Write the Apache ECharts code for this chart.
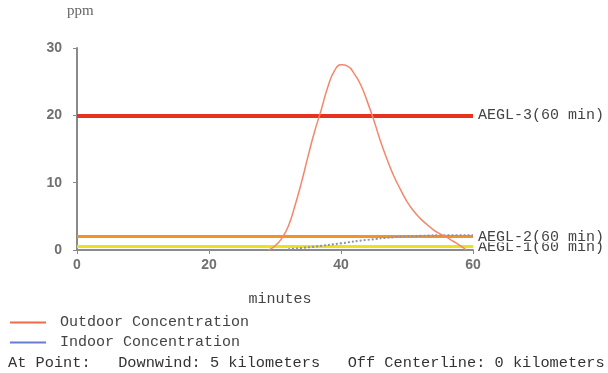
<!DOCTYPE html>
<html>
<head>
<meta charset="utf-8">
<script src="https://cdn.jsdelivr.net/npm/echarts@6/dist/echarts.min.js"></script>
<style>
  html, body { margin: 0; padding: 0; background: #ffffff; }
  #chart { width: 608px; height: 373px; }
</style>
</head>
<body>
<div id="chart"></div>
<script>
// Concentration over time at the receptor point (minutes, ppm)
const outdoorMinutes = [29, 30, 31, 32, 33, 34, 35, 36, 37, 38, 39, 40, 41, 42, 43, 44, 45, 46, 47, 48, 49, 50, 51, 52, 53, 54, 55, 56, 57, 58, 59];
const outdoorPpm = [0, 0.6, 1.7, 3.5, 6.5, 10.0, 13.9, 17.6, 20.8, 24.2, 26.6, 27.5, 27.3, 26.2, 24.5, 22.0, 19.2, 16.1, 13.4, 11.0, 9.0, 7.2, 5.8, 4.7, 3.8, 3.0, 2.4, 1.9, 1.3, 0.7, 0];
const indoorMinutes = [32, 36, 40, 44, 48, 52, 56, 60];
const indoorPpm = [0.1, 0.5, 1.0, 1.5, 1.9, 2.1, 2.2, 2.2];

// Acute exposure guideline levels (60 minute), drawn lowest first
const aeglNames = ['AEGL-1(60 min)', 'AEGL-2(60 min)', 'AEGL-3(60 min)'];
const aeglPpm = [0.5, 2, 20];
const aeglColors = ['#ece21c', '#f59222', '#e8321e'];
const aeglWidths = [3, 3, 4];

const xTicks = { min: 0, max: 60, interval: 20 };
const yTicks = { min: 0, max: 30, interval: 10 };

const mono = '"Liberation Mono", "DejaVu Sans Mono", monospace';
const tickFont = '"Liberation Sans", Arial, sans-serif';

function pairs(xs, ys) { return xs.map((x, i) => [x, ys[i]]); }

// One series per guideline level so each label stacks above the one below it
const aeglSeries = aeglNames.map((n, i) => ({
  name: n, type: 'line', data: [], silent: true, z: 2 + i,
  markLine: {
    symbol: 'none', silent: true,
    data: [{
      name: n, yAxis: aeglPpm[i],
      lineStyle: { color: aeglColors[i], width: aeglWidths[i], type: 'solid' },
      label: {
        show: true, position: 'end', formatter: n, distance: 5,
        fontFamily: mono, fontSize: 15, color: '#444', lineHeight: 12,
        backgroundColor: '#ffffff', padding: [0, 0, 0, 0]
      }
    }]
  }
}));

const chart = echarts.init(document.getElementById('chart'), null, { renderer: 'canvas' });

chart.setOption({
  backgroundColor: '#ffffff',
  animation: false,
  grid: { left: 77, right: 135, top: 48, bottom: 123 },
  xAxis: {
    type: 'value', min: xTicks.min, max: xTicks.max, interval: xTicks.interval,
    name: 'minutes', nameLocation: 'middle', nameGap: 42,
    nameTextStyle: { fontFamily: mono, fontSize: 15, color: '#444', padding: [0, 0, 0, 10] },
    axisLine: { show: true, lineStyle: { color: '#8a8a8a', width: 2 } },
    axisTick: { show: true, length: 4, lineStyle: { color: '#8a8a8a' } },
    axisLabel: { fontFamily: tickFont, fontWeight: 'bold', fontSize: 14, color: '#707070', margin: 8 },
    splitLine: { show: false }
  },
  yAxis: {
    type: 'value', min: yTicks.min, max: yTicks.max, interval: yTicks.interval,
    name: 'ppm', nameLocation: 'end', nameGap: 29,
    nameTextStyle: { fontFamily: '"Liberation Serif", serif', fontSize: 15, color: '#666', align: 'left', padding: [0, 0, 0, -10] },
    axisLine: { show: true, lineStyle: { color: '#8a8a8a', width: 2 } },
    axisTick: { show: true, length: 4, lineStyle: { color: '#8a8a8a' } },
    axisLabel: { fontFamily: tickFont, fontWeight: 'bold', fontSize: 14, color: '#707070', margin: 15 },
    splitLine: { show: false }
  },
  legend: {
    orient: 'vertical', left: 10, top: 315, padding: 0,
    itemWidth: 36, itemHeight: 10, itemGap: 5,
    icon: 'path://M0,4 L36,4 L36,6 L0,6 Z',
    textStyle: { fontFamily: mono, fontSize: 15, color: '#444', padding: [0, 0, 0, 9] },
    data: [
      { name: 'Outdoor Concentration', itemStyle: { color: '#f06a4c' } },
      { name: 'Indoor Concentration', itemStyle: { color: '#6a7ad0' } }
    ]
  },
  series: aeglSeries.concat([
    {
      name: 'Indoor Concentration', type: 'line', data: pairs(indoorMinutes, indoorPpm),
      showSymbol: false, smooth: true, z: 6,
      lineStyle: { color: '#8e90aa', width: 2, type: [2, 2] },
      itemStyle: { color: '#6a7ad0' }
    },
    {
      name: 'Outdoor Concentration', type: 'line', data: pairs(outdoorMinutes, outdoorPpm),
      showSymbol: false, smooth: true, z: 7,
      lineStyle: { color: '#f4876a', width: 1.5 },
      itemStyle: { color: '#f06a4c' }
    }
  ]),
  graphic: [
    {
      type: 'text', left: 8, top: 355,
      style: { text: 'At Point:   Downwind: 5 kilometers   Off Centerline: 0 kilometers',
               font: '15.3px ' + mono, fill: '#333' }
    }
  ]
});
</script>
</body>
</html>
